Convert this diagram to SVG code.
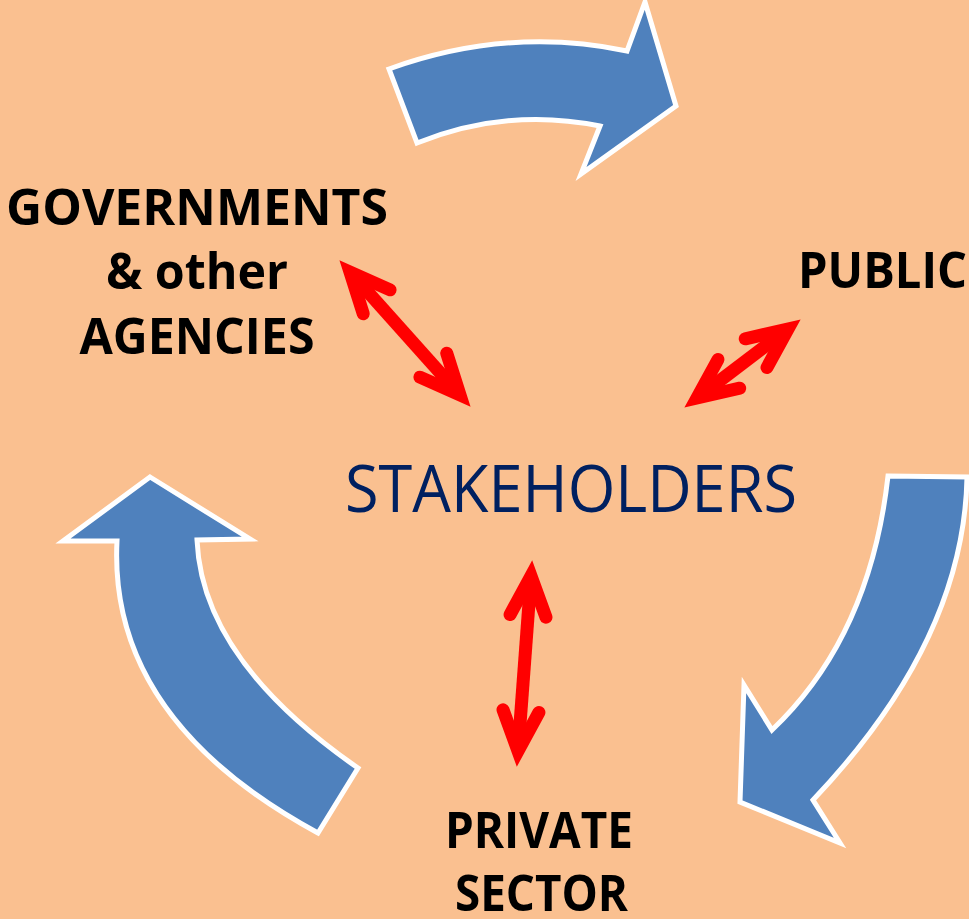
<svg xmlns="http://www.w3.org/2000/svg" width="969" height="919" viewBox="0 0 969 919">
<style>
.bg{fill:#FAC090}
.cyc{fill:#4F81BD;stroke:#FFFFFF;stroke-width:5;stroke-linejoin:miter}
.lbl{font-family:"Open Sans","Liberation Sans",sans-serif;font-weight:bold;font-size:51px;fill:#000000}
.ctr{font-family:"Open Sans","Liberation Sans",sans-serif;font-size:65px;fill:#002060}
.rl{stroke:#FF0000;stroke-width:13;fill:none;marker-start:url(#rh);marker-end:url(#rh)}
</style>
<defs>
<marker id="rh" markerUnits="userSpaceOnUse" orient="auto-start-reverse" refX="0" refY="0" markerWidth="90" markerHeight="90" overflow="visible">
<path d="M-40,-18 L0,0 L-40,18" fill="none" stroke="#FF0000" stroke-width="13" stroke-linejoin="miter" stroke-miterlimit="10" stroke-linecap="round"/>
</marker>
</defs>
<rect class="bg" x="0" y="0" width="969" height="919"/>
<g id="cycle-arrows">
<path id="arrow-top" class="cyc" d="M389,69 Q508,26 627,51 L645,2 L676,106 L581,174 L600,126 Q507,107 417,143 Z"/>
<path id="arrow-right" class="cyc" d="M888,476 L967,477 Q964,641 813,800 L840,843 L740,802 L744,685 L772,730 Q870,637 888,476 Z"/>
<path id="arrow-left" class="cyc" d="M150,477 L250,539 L197,540 Q202,660 358,768 L318,833 Q108,719 117,541 L63,541 Z"/>
</g>
<g id="connectors">
<line class="rl" x1="350" y1="272" x2="460" y2="395"/>
<line class="rl" x1="788" y1="329" x2="697" y2="398"/>
<line class="rl" x1="531" y1="576" x2="518" y2="751"/>
</g>
<g id="node-governments">
<text class="lbl" text-anchor="middle" x="197" y="225" textLength="382" lengthAdjust="spacingAndGlyphs">GOVERNMENTS</text>
<text class="lbl" text-anchor="middle" x="197" y="289" textLength="182" lengthAdjust="spacingAndGlyphs">&amp; other</text>
<text class="lbl" text-anchor="middle" x="197" y="354" textLength="235" lengthAdjust="spacingAndGlyphs">AGENCIES</text>
</g>
<g id="node-public">
<text class="lbl" x="798" y="288" textLength="169" lengthAdjust="spacingAndGlyphs">PUBLIC</text>
</g>
<g id="node-stakeholders">
<text class="ctr" x="345" y="512" textLength="452" lengthAdjust="spacingAndGlyphs">STAKEHOLDERS</text>
</g>
<g id="node-private">
<text class="lbl" x="445" y="848" textLength="188" lengthAdjust="spacingAndGlyphs">PRIVATE</text>
<text class="lbl" x="455" y="911" textLength="173" lengthAdjust="spacingAndGlyphs">SECTOR</text>
</g>
</svg>
